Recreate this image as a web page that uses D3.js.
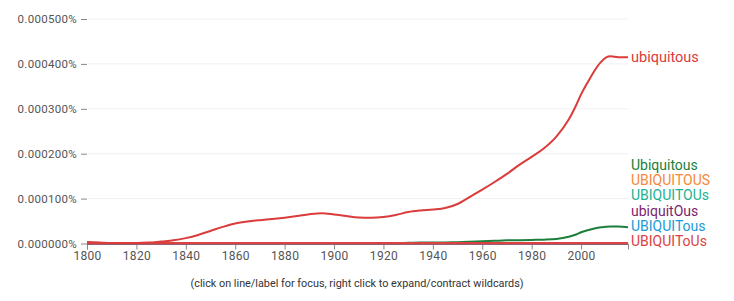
<!DOCTYPE html>
<html>
<head>
<meta charset="utf-8">
<title>ubiquitous ngram</title>
<script src="https://d3js.org/d3.v7.min.js"></script>
<style>
  body { margin: 0; background: #fff; }
  text { font-family: Roboto, "Noto Sans", sans-serif; }
</style>
</head>
<body>
<svg id="chart" width="734" height="301"></svg>
<script>
// years
var years = [1800,1805,1810,1815,1820,1825,1830,1835,1840,1845,1850,1855,1860,1865,1870,1875,1880,1885,1890,1895,
             1900,1905,1910,1915,1920,1925,1930,1935,1940,1945,1950,1955,1960,1965,1970,1975,1980,1985,1990,1995,
             1998,2000,2003,2005,2008,2010,2012,2015,2019];

// values in percent
var ubiquitous = [0.0000033,0.000002,0.000001,0.000001,0.000001,0.000002,0.0000045,0.000007,0.000012,0.000019,
                  0.000028,0.000037,0.0000445,0.000049,0.000052,0.0000545,0.0000575,0.000061,0.000065,0.0000673,
                  0.0000646,0.000061,0.000058,0.0000572,0.000059,0.0000635,0.00007,0.0000735,0.0000757,0.000079,
                  0.000088,0.000104,0.00012,0.000137,0.000155,0.000175,0.000193,0.000212,0.000238,0.000276,
                  0.000308,0.000332,0.000362,0.000381,0.000404,0.000414,0.000417,0.000415,0.000415];
var Ubiquitous = [0,0,0,0,0,0,0,0,0,0.0000005,0.000001,0.000001,0.000001,0.000001,0.000001,0.000001,0.000001,0.000001,0.000001,0.000001,
                  0.000001,0.000001,0.000001,0.000001,0.000001,0.000001,0.0000015,0.000002,0.000002,0.0000025,
                  0.000003,0.000004,0.000005,0.000006,0.000007,0.0000075,0.000008,0.0000085,0.00001,0.000015,
                  0.00002,0.000025,0.00003,0.000033,0.000036,0.0000375,0.0000378,0.0000378,0.000036];
var UBIQUITOUS = years.map(function() { return 0.0000005; });
var UBIQUITOUs = years.map(function() { return 0.0000004; });
var ubiquitOus = years.map(function() { return 0.0000004; });
var UBIQUITous = years.map(function() { return 0.0000004; });
var UBIQUIToUs = years.map(function() { return 0.0000006; });

var seriesNames = ["ubiquitous","Ubiquitous","UBIQUITOUS","UBIQUITOUs","ubiquitOus","UBIQUITous","UBIQUIToUs"];
var seriesValues = [ubiquitous, Ubiquitous, UBIQUITOUS, UBIQUITOUs, ubiquitOus, UBIQUITous, UBIQUIToUs];
var seriesColors = ["#db3b3b","#1b7f3b","#f5893a","#19b394","#7b1f6b","#1a9ad6","#dc4242"];

var xTicks = [1800,1820,1840,1860,1880,1900,1920,1940,1960,1980,2000];
var yTicks = [0,0.0001,0.0002,0.0003,0.0004,0.0005];

var svg = d3.select("#chart");

var x = d3.scaleLinear().domain([1800, 2019]).range([87, 628]);
var y = d3.scaleLinear().domain([0, 0.0005]).range([243.5, 19]);

// gridlines
svg.append("g").selectAll("line")
  .data(yTicks.slice(1))
  .enter().append("line")
  .attr("x1", 88).attr("x2", 628)
  .attr("y1", function(d) { return y(d); })
  .attr("y2", function(d) { return y(d); })
  .attr("stroke", "#f0f0f0").attr("stroke-width", 1);

// y axis
var yAxis = svg.append("g")
  .attr("transform", "translate(87,0)")
  .call(d3.axisLeft(y).tickValues(yTicks).tickSize(6).tickPadding(4)
        .tickFormat(function(d) { return d.toFixed(6) + "%"; }));
yAxis.select(".domain").remove();
yAxis.selectAll("line").attr("stroke", "#888");
yAxis.selectAll("text").attr("fill", "#555").style("font-size", "11.5px")
  .style("font-family", "Roboto, sans-serif").style("letter-spacing", "0.3px");

// x axis
var xAxis = svg.append("g")
  .attr("transform", "translate(0,243.5)")
  .call(d3.axisBottom(x).tickValues(xTicks).tickSize(6).tickPadding(2).tickFormat(d3.format("d")));
xAxis.select(".domain").attr("stroke", "#888");
xAxis.selectAll("line").attr("stroke", "#888");
xAxis.selectAll("text").attr("fill", "#555").style("font-size", "12px")
  .style("font-family", "Roboto, sans-serif").style("letter-spacing", "0.3px");

var line = d3.line()
  .x(function(d, i) { return x(years[i]); })
  .y(function(d) { return y(d); })
  .curve(d3.curveMonotoneX);

// draw back to front, the big one last
var order = [1,2,3,4,5,6,0];
order.forEach(function(k) {
  svg.append("path")
    .datum(seriesValues[k])
    .attr("d", line)
    .attr("fill", "none")
    .attr("stroke", seriesColors[k])
    .attr("stroke-width", k >= 2 ? 2.5 : 2);
});

// labels
svg.append("text").attr("x", 631).attr("y", y(ubiquitous[ubiquitous.length - 1]))
  .attr("dy", "0.35em").attr("fill", seriesColors[0]).style("font-size", "14.5px")
  .text(seriesNames[0]);

var labelY = [165, 180.2, 195.4, 210.6, 225.8, 241];
svg.append("g").selectAll("text")
  .data(seriesNames.slice(1))
  .enter().append("text")
  .attr("x", 631)
  .attr("y", function(d, i) { return labelY[i]; })
  .attr("dy", "0.35em")
  .attr("fill", function(d, i) { return seriesColors[i + 1]; })
  .style("font-size", "14px")
  .text(function(d) { return d; });

svg.append("text")
  .attr("x", 357).attr("y", 287)
  .attr("text-anchor", "middle")
  .attr("fill", "#333")
  .attr("textLength", 333).attr("lengthAdjust", "spacingAndGlyphs")
  .style("font-size", "11px")
  .text("(click on line/label for focus, right click to expand/contract wildcards)");
</script>
</body>
</html>
